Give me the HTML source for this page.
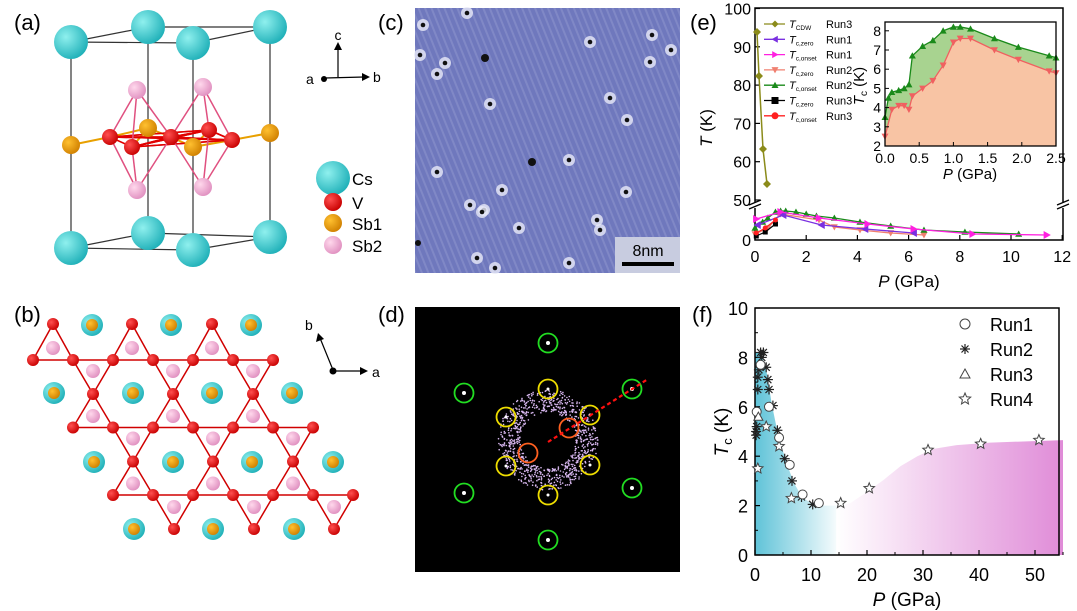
<!DOCTYPE html>
<html><head><meta charset="utf-8"><style>
html,body{margin:0;padding:0;background:#fff;}
svg{display:block;font-family:"Liberation Sans",sans-serif;}
</style></head><body>
<svg id="s" width="1077" height="611" viewBox="0 0 1077 611" xmlns="http://www.w3.org/2000/svg">
<defs>
<radialGradient id="gc" cx="0.35" cy="0.35" r="0.7"><stop offset="0" stop-color="#8ff0ee"/><stop offset="1" stop-color="#1fb0b8"/></radialGradient>
<radialGradient id="gr" cx="0.35" cy="0.35" r="0.7"><stop offset="0" stop-color="#ff5050"/><stop offset="1" stop-color="#c80000"/></radialGradient>
<radialGradient id="go" cx="0.35" cy="0.35" r="0.7"><stop offset="0" stop-color="#ffc030"/><stop offset="1" stop-color="#d08000"/></radialGradient>
<radialGradient id="gp" cx="0.35" cy="0.35" r="0.7"><stop offset="0" stop-color="#ffd8ec"/><stop offset="1" stop-color="#e090c0"/></radialGradient>
<linearGradient id="fb" x1="0" x2="1"><stop offset="0" stop-color="#5fc3d8"/><stop offset="1" stop-color="#ffffff"/></linearGradient>
<linearGradient id="fp" x1="0" x2="1"><stop offset="0" stop-color="#ffffff"/><stop offset="1" stop-color="#e08cd8"/></linearGradient>
<pattern id="stm" width="6" height="6" patternUnits="userSpaceOnUse" patternTransform="rotate(-22)"><rect width="6" height="6" fill="#6f78bd"/><rect width="2" height="6" fill="#8088c6"/></pattern>
</defs>
<g id="g"></g>
<g font-size="22" fill="#000">
<text x="14" y="30">(a)</text><text x="378" y="30">(c)</text><text x="690" y="30">(e)</text>
<text x="14" y="322">(b)</text><text x="378" y="322">(d)</text><text x="692" y="322">(f)</text>
</g>
</svg>
<script>
(function(){
const g=document.getElementById('g');let h='';
function C(x,y,r,f,extra){h+=`<circle cx="${x}" cy="${y}" r="${r}" fill="${f}" ${extra||''}/>`;}
function L(x1,y1,x2,y2,s,w,extra){h+=`<line x1="${x1}" y1="${y1}" x2="${x2}" y2="${y2}" stroke="${s}" stroke-width="${w}" ${extra||''}/>`;}
function T(x,y,t,sz,a,extra){h+=`<text x="${x}" y="${y}" font-size="${sz}" text-anchor="${a||'start'}" ${extra||''}>${t}</text>`;}
const tp=[[71,42],[148,27],[193,43],[270,27]],bt=[[71,248],[148,233],[193,250],[270,237]];
[[0,2],[2,3],[3,1],[1,0]].forEach(([i,j])=>{L(...tp[i],...tp[j],'#333',1.2);L(...bt[i],...bt[j],'#333',1.2);});
for(let i=0;i<4;i++)L(...tp[i],...bt[i],'#333',1.2);
const sb1=[[71,145],[148,128],[193,147],[270,133]],V=[[110,137],[132,147],[171,137],[209,130],[232,140]],sb2=[[137,90],[203,87],[137,190],[203,187]];
sb1.forEach(p=>V.forEach(q=>{if(Math.abs(p[0]-q[0])<50)L(...p,...q,'#e8a000',2)}));
V.forEach(p=>V.forEach(q=>L(...p,...q,'#e00000',1.5)));
sb2.forEach(p=>V.forEach(q=>{if(Math.abs(p[0]-q[0])<45)L(...p,...q,'#e05080',1.5)}));
tp.concat(bt).forEach(p=>C(p[0],p[1],17,'url(#gc)'));
sb2.forEach(p=>C(p[0],p[1],9,'url(#gp)'));sb1.forEach(p=>C(p[0],p[1],9,'url(#go)'));V.forEach(p=>C(p[0],p[1],8,'url(#gr)'));
C(333,178,17,'url(#gc)');C(333,202,9,'url(#gr)');C(333,223,9,'url(#go)');C(333,245,9,'url(#gp)');
T(352,185,'Cs',17);T(352,209,'V',17);T(352,230,'Sb1',17);T(352,252,'Sb2',17);
L(338,77,338,48,'#000',1.2);h+='<path d="M334,50 L338,42 L342,50Z"/>';L(325,78,364,77,'#000',1.2);h+='<path d="M362,73 L370,77 L362,81Z"/><circle cx="324" cy="79" r="3"/>';
T(338,40,'c',14,'middle');T(373,82,'b',14);T(306,84,'a',14);
let tri=[];
for(let k=0;k<3;k++){const y=360+67.5*k,x0=33+40*k;
 L(x0,y,x0+240,y,'#d00000',1.5);
 for(let j=0;j<3;j++){const mx=x0+60+80*j;
   if(k<2){const my=y+34;L(mx,my,mx-20,y,'#d00000',1.5);L(mx,my,mx+20,y,'#d00000',1.5);L(mx,my,mx-20,y+67.5,'#d00000',1.5);L(mx,my,mx+20,y+67.5,'#d00000',1.5);tri.push([mx,y+11],[mx,y+56]);}
 }
}
[53,132,212].forEach(x=>{L(x,324,x-20,360,'#d00000',1.5);L(x,324,x+20,360,'#d00000',1.5);tri.push([x,348]);});
[174,254,334].forEach(x=>{L(x,529,x-20,495,'#d00000',1.5);L(x,529,x+20,495,'#d00000',1.5);tri.push([x,507]);});
tri.forEach(p=>{C(p[0],p[1],7,'url(#gp)');});
[[92,325],[171,325],[251,325],[54,393],[133,393],[212,393],[292,393],[94,462],[173,462],[252,462],[333,462],[134,529],[213,529],[294,529]].forEach(p=>{C(p[0],p[1],11,'url(#gc)');C(p[0],p[1],6,'url(#go)');});
for(let k=0;k<3;k++){const y=360+67.5*k,x0=33+40*k;for(let i=0;i<7;i++)C(x0+40*i,y,6,'url(#gr)');if(k<2)for(let j=0;j<3;j++)C(x0+60+80*j,y+34,6,'url(#gr)');}
[53,132,212].forEach(x=>C(x,324,6,'url(#gr)'));[174,254,334].forEach(x=>C(x,529,6,'url(#gr)'));
L(333,370,320,338,'#000',1.2);h+='<path d="M316,342 L318,333 L324,339Z"/><circle cx="333" cy="371" r="3.5"/>';L(333,371,362,371,'#000',1.2);h+='<path d="M360,367 L368,371 L360,375Z"/>';
T(305,330,'b',14);T(372,377,'a',14);
h+='<rect x="415" y="8" width="265" height="265" fill="url(#stm)"/>';
[[467,13],[423,25],[590,42],[420,55],[437,74],[445,63],[652,35],[671,50],[650,62],[490,104],[610,98],[627,120],[437,172],[569,160],[626,192],[502,190],[484,210],[470,205],[482,212],[597,220],[600,230],[519,228],[477,258],[569,263],[495,268]].forEach(p=>{C(p[0],p[1],6,'#e8eaf8','opacity="0.8"');C(p[0],p[1],2.3,'#111');});
C(485,58,4,'#111');C(532,162,4,'#111');C(418,243,3,'#111');
h+='<rect x="615" y="237" width="65" height="36" fill="#c8cce0"/><rect x="622" y="262" width="52" height="4" fill="#000"/>';
T(648,256,'8nm',16,'middle');
h+='<rect x="415" y="307" width="265" height="265" fill="#000"/>';
let seed=3;function rnd(){seed=(seed*16807)%2147483647;return seed/2147483647;}
for(let i=0;i<900;i++){const a=rnd()*6.283,r=28+rnd()*22;C((548+r*Math.cos(a)).toFixed(1),(440+r*Math.sin(a)).toFixed(1),0.8,'#d8b8f0');}
[[548,343],[548,540],[464,393],[632,389],[464,493],[632,488]].forEach(p=>{C(p[0],p[1],2,'#fff');h+=`<circle cx="${p[0]}" cy="${p[1]}" r="9.5" fill="none" stroke="#22dd22" stroke-width="1.8"/>`;});
[[548,389],[548,495],[506,417],[590,415],[506,466],[590,465]].forEach(p=>{C(p[0],p[1],1.5,'#fff');h+=`<circle cx="${p[0]}" cy="${p[1]}" r="9.5" fill="none" stroke="#eedd00" stroke-width="1.8"/>`;});
[[569,428],[528,453]].forEach(p=>h+=`<circle cx="${p[0]}" cy="${p[1]}" r="9.5" fill="none" stroke="#ff6020" stroke-width="1.8"/>`);
L(548,442,648,379,'#ff1010',2.2,'stroke-dasharray="4,3"');
const ex=P=>755+25.6*P, eyU=t=>200-(t-50)*3.83;
h+='<rect x="755" y="8" width="308" height="232" fill="none" stroke="#000" stroke-width="1.5"/>';
h+='<rect x="750" y="202" width="10" height="6" fill="#fff"/><rect x="1058" y="202" width="10" height="6" fill="#fff"/>';
L(749,205,761,200,'#000',1.3);L(749,209,761,204,'#000',1.3);L(1057,205,1069,200,'#000',1.3);L(1057,209,1069,204,'#000',1.3);
[100,90,80,70,60,50].forEach(t=>{L(755,eyU(t),760,eyU(t),'#000',1.2);T(751,eyU(t)+6,t,16,'end');});
T(751,246,'0',16,'end');
for(let P=0;P<=12;P+=2){L(ex(P),240,ex(P),235,'#000',1.2);T(ex(P),262,P,16,'middle');}
T(909,287,'<tspan font-style="italic">P</tspan> (GPa)',17,'middle');
T(0,0,'<tspan font-style="italic">T</tspan> (K)',17,'middle','transform="translate(712,128) rotate(-90)"');
function poly(pts,col,w,mk,sz){h+=`<polyline points="${pts.map(p=>p.join(',')).join(' ')}" fill="none" stroke="${col}" stroke-width="${w}"/>`;pts.forEach(p=>mk(p[0],p[1],col,sz));}
const dia=(x,y,c,s)=>{h+=`<path d="M${x},${y-s} L${x+s},${y} L${x},${y+s} L${x-s},${y}Z" fill="${c}"/>`;};
const tu=(x,y,c,s)=>{h+=`<path d="M${x},${y-s} L${x+s},${y+s*0.8} L${x-s},${y+s*0.8}Z" fill="${c}"/>`;};
const td=(x,y,c,s)=>{h+=`<path d="M${x},${y+s} L${x+s},${y-s*0.8} L${x-s},${y-s*0.8}Z" fill="${c}"/>`;};
const tl=(x,y,c,s)=>{h+=`<path d="M${x-s},${y} L${x+s*0.8},${y-s} L${x+s*0.8},${y+s}Z" fill="${c}"/>`;};
const tr=(x,y,c,s)=>{h+=`<path d="M${x+s},${y} L${x-s*0.8},${y-s} L${x-s*0.8},${y+s}Z" fill="${c}"/>`;};
const sq=(x,y,c,s)=>{h+=`<rect x="${x-s}" y="${y-s}" width="${2*s}" height="${2*s}" fill="${c}"/>`;};
const ci=(x,y,c,s)=>{C(x,y,s,c);};
poly([[757,32],[759,76],[763,149],[767,184]],'#8b8b1a',1.5,dia,4);
const mk=(a)=>a.map(([P,y])=>[ex(P),y]);
poly(mk([[0,234],[0.5,228],[1.0,214],[2.5,220],[3.1,227],[4.1,230],[5.3,233],[6.6,235]]),'#f08070',1.3,td,3.5);
poly(mk([[0,228],[0.3,222],[0.5,218],[0.8,212],[1.0,211],[1.2,211],[1.6,212],[2.0,214],[2.4,216],[3.1,218],[4.1,222],[5.3,226],[6.6,230],[8.2,232],[10.3,234]]),'#1a8a1a',1.3,tu,3.5);
poly(mk([[0.1,225],[1.1,215],[2.6,225],[4.3,229],[6.2,233]]),'#7a30e0',1.3,tl,4);
poly(mk([[0.05,219],[1.0,212],[2.5,218],[4.4,224],[6.2,229],[8.5,234],[11.4,235]]),'#ff20e0',1.3,tr,4);
poly(mk([[0.05,236],[0.4,232],[0.8,224]]),'#000',1.2,sq,2.5);
poly(mk([[0.05,233],[0.4,228],[0.8,220]]),'#ff2020',1.2,ci,2.5);
const leg=[['#8b8b1a',dia,'CDW','Run3'],['#7a30e0',tl,'c,zero','Run1'],['#ff20e0',tr,'c,onset','Run1'],['#f08070',td,'c,zero','Run2'],['#1a8a1a',tu,'c,onset','Run2'],['#000',sq,'c,zero','Run3'],['#ff2020',ci,'c,onset','Run3']];
leg.forEach((l,i)=>{const y=24+i*15.3;L(764,y,785,y,l[0],1.3);l[1](775,y,l[0],3.5);T(789,y+4,`<tspan font-style="italic">T</tspan><tspan font-size="6.5" dy="2">${l[2]}</tspan>`,11);T(826,y+4,l[3],11);});
const ix=P=>885+P*68.4, iy=t=>146-(t-2)*19.2;
const gpts=[[0,3.5],[0.05,4.5],[0.1,4.8],[0.2,4.9],[0.28,5.0],[0.35,5.2],[0.4,6.7],[0.55,7.2],[0.7,7.5],[0.85,8.0],[1.0,8.2],[1.1,8.2],[1.25,8.1],[1.6,7.6],[1.95,7.15],[2.4,6.7],[2.5,6.6]];
const spts=[[0,2.5],[0.1,3.9],[0.2,4.1],[0.28,4.1],[0.35,3.9],[0.4,4.6],[0.55,5.0],[0.7,5.4],[0.85,6.2],[1.0,7.4],[1.1,7.6],[1.25,7.6],[1.6,7.0],[1.95,6.5],[2.4,5.9],[2.5,5.8]];
const GG=gpts.map(([P,t])=>[ix(P),iy(t)]),SS=spts.map(([P,t])=>[ix(P),iy(t)]);
h+=`<polygon points="${GG.map(p=>p.join(',')).join(' ')} ${ix(2.5)},146 885,146" fill="#a8d390"/>`;
h+=`<polygon points="${SS.map(p=>p.join(',')).join(' ')} ${ix(2.5)},146 885,146" fill="#f8c4a4"/>`;
poly(GG,'#1a8a1a',1.3,tu,3.5);poly(SS,'#f06060',1.3,td,3.5);
h+='<rect x="885" y="22" width="171" height="124" fill="none" stroke="#000" stroke-width="1.3"/>';
for(let t=2;t<=8;t++){L(885,iy(t),889,iy(t),'#000',1);T(881,iy(t)+5,t,14,'end');}
for(let P=0;P<=2.5;P+=0.5){L(ix(P),146,ix(P),142,'#000',1);T(ix(P),163,P.toFixed(1),14,'middle');}
T(970,179,'<tspan font-style="italic">P</tspan> (GPa)',15,'middle');
T(0,0,'<tspan font-style="italic">T</tspan><tspan font-size="10" dy="3">c</tspan><tspan dy="-3"> (K)</tspan>',15,'middle','transform="translate(864,86) rotate(-90)"');
const fx=P=>755+5.6*P, fy=t=>555-24.7*t;
const sm=a=>a.map(([P,t])=>fx(P).toFixed(1)+','+fy(t).toFixed(1)).join(' ');
h+=`<polygon points="${fx(0)},${fy(0)} ${sm([[0,8.2],[1,8.2],[2,7.5],[3,6.1],[4,5.0],[5,4.2],[6,3.5],[7,2.9],[8,2.5],[9,2.25],[10,2.1],[12,2.0],[14,2.0],[15.5,2.0]])} ${fx(15.5)},${fy(0)}" fill="url(#fb)"/>`;
h+=`<polygon points="${fx(14.5)},${fy(0)} ${sm([[14.5,1.95],[17,2.1],[20,2.55],[23,3.05],[26,3.6],[29,4.0],[32,4.3],[36,4.45],[42,4.55],[55,4.65]])} ${fx(55)},${fy(0)}" fill="url(#fp)"/>`;
h+='<rect x="755" y="308" width="304" height="247" fill="none" stroke="#000" stroke-width="1.5"/>';
for(let t=0;t<=10;t+=2){L(755,fy(t),760,fy(t),'#000',1.2);T(748,fy(t)+7,t,18,'end');}
for(let t=1;t<10;t+=2)L(755,fy(t),758,fy(t),'#000',1);
for(let P=0;P<=50;P+=10){L(fx(P),555,fx(P),550,'#000',1.2);T(fx(P),581,P,18,'middle');}
for(let P=5;P<=55;P+=10)L(fx(P),555,fx(P),552,'#000',1);
T(907,606,'<tspan font-style="italic">P</tspan> (GPa)',19,'middle');
T(0,0,'<tspan font-style="italic">T</tspan><tspan font-size="13" dy="4">c</tspan><tspan dy="-4"> (K)</tspan>',19,'middle','transform="translate(728,432) rotate(-90)"');
function star(x,y,r){let d='';for(let i=0;i<10;i++){const a=-Math.PI/2+i*Math.PI/5,rr=i%2?r*0.45:r;d+=(i?'L':'M')+(x+rr*Math.cos(a)).toFixed(1)+','+(y+rr*Math.sin(a)).toFixed(1);}h+=`<path d="${d}Z" fill="#fff" stroke="#444" stroke-width="1"/>`;}
function ast(x,y,r){for(let i=0;i<4;i++){const a=i*Math.PI/4;L((x-r*Math.cos(a)).toFixed(1),(y-r*Math.sin(a)).toFixed(1),(x+r*Math.cos(a)).toFixed(1),(y+r*Math.sin(a)).toFixed(1),'#222',1.2);}}
function oc(x,y,r){h+=`<circle cx="${x}" cy="${y}" r="${r}" fill="#fff" stroke="#444" stroke-width="1"/>`;}
function otri(x,y,r){h+=`<path d="M${x},${y-r} L${x+r},${y+r*0.8} L${x-r},${y+r*0.8}Z" fill="#fff" stroke="#444" stroke-width="1"/>`;}
[[0.5,3.5],[2,5.2],[4.3,4.4],[6.5,2.3],[15.3,2.1],[20.4,2.7],[30.9,4.25],[40.3,4.5],[50.7,4.65]].forEach(([P,t])=>star(fx(P),fy(t),5.5));
[[0.2,5.0],[0.3,5.2],[0.2,4.85],[0.5,6.7],[0.5,7.2],[0.7,7.5],[1,8.2],[1.5,8.2],[1.2,8.0],[2,7.6],[2.3,7.1],[2.5,6.7],[3.2,6.05],[4,5.05],[5.3,3.9],[6.6,3.0],[8.3,2.35],[10.3,2.05]].forEach(([P,t])=>ast(fx(P),fy(t),5));
[[0.3,5.8],[1,7.7],[2.5,6.0],[4.3,4.75],[6.2,3.65],[8.5,2.45],[11.4,2.1]].forEach(([P,t])=>oc(fx(P),fy(t),4.5));
otri(fx(0.6),fy(5.6),4.5);
oc(965,324,5);ast(965,349,5);otri(965,374,5);star(965,399,6);
T(990,331,'Run1',18);T(990,356,'Run2',18);T(990,381,'Run3',18);T(990,406,'Run4',18);
g.innerHTML=h;
})();
</script>
</body></html>
